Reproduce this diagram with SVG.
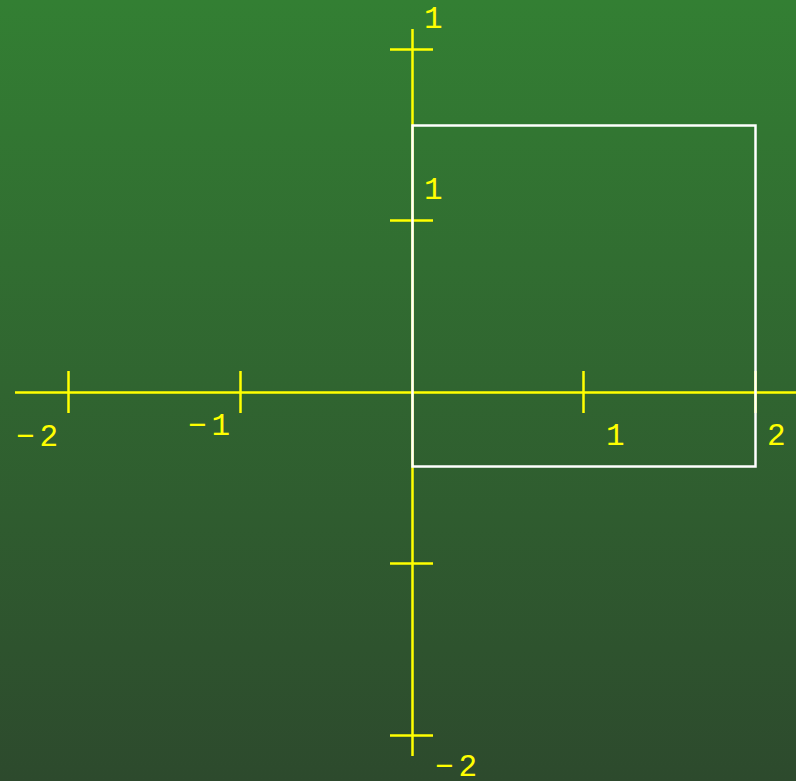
<svg xmlns="http://www.w3.org/2000/svg" width="796" height="781" viewBox="0 0 796 781">
<defs>
<linearGradient id="bg" x1="0" y1="0" x2="0" y2="1">
<stop offset="0" stop-color="#337f33"/>
<stop offset="1" stop-color="#2d4a2d"/>
</linearGradient>
</defs>
<style>
.ax{stroke:#ffff00;stroke-width:2.5;fill:none}
.lb{fill:#ffff00;font-family:"Liberation Mono","DejaVu Sans Mono",monospace;font-size:31px}
.neg{letter-spacing:5px}
.box{stroke:#ffffff;stroke-width:2.5;fill:none}
</style>
<rect x="0" y="0" width="796" height="781" fill="url(#bg)"/>
<g id="axes">
<path class="ax" d="M15 392.5H796M412.5 29V756"/>
<path class="ax" d="M68.5 371V413M240.5 371V413M583.5 371V413M755.5 371V413"/>
<path class="ax" d="M390 49.5H433M390 220.5H433M390 563.5H433M390 735.5H433"/>
</g>
<g id="box">
<rect class="box" x="412.5" y="125.5" width="343" height="341"/>
</g>
<g id="labels">
<text class="lb" x="424" y="28">1</text>
<text class="lb" x="424" y="199">1</text>
<text class="lb neg" x="16" y="446">−2</text>
<text class="lb neg" x="188" y="435">−1</text>
<text class="lb" x="606" y="445">1</text>
<text class="lb" x="767" y="445">2</text>
<text class="lb neg" x="435" y="776">−2</text>
</g>
</svg>
